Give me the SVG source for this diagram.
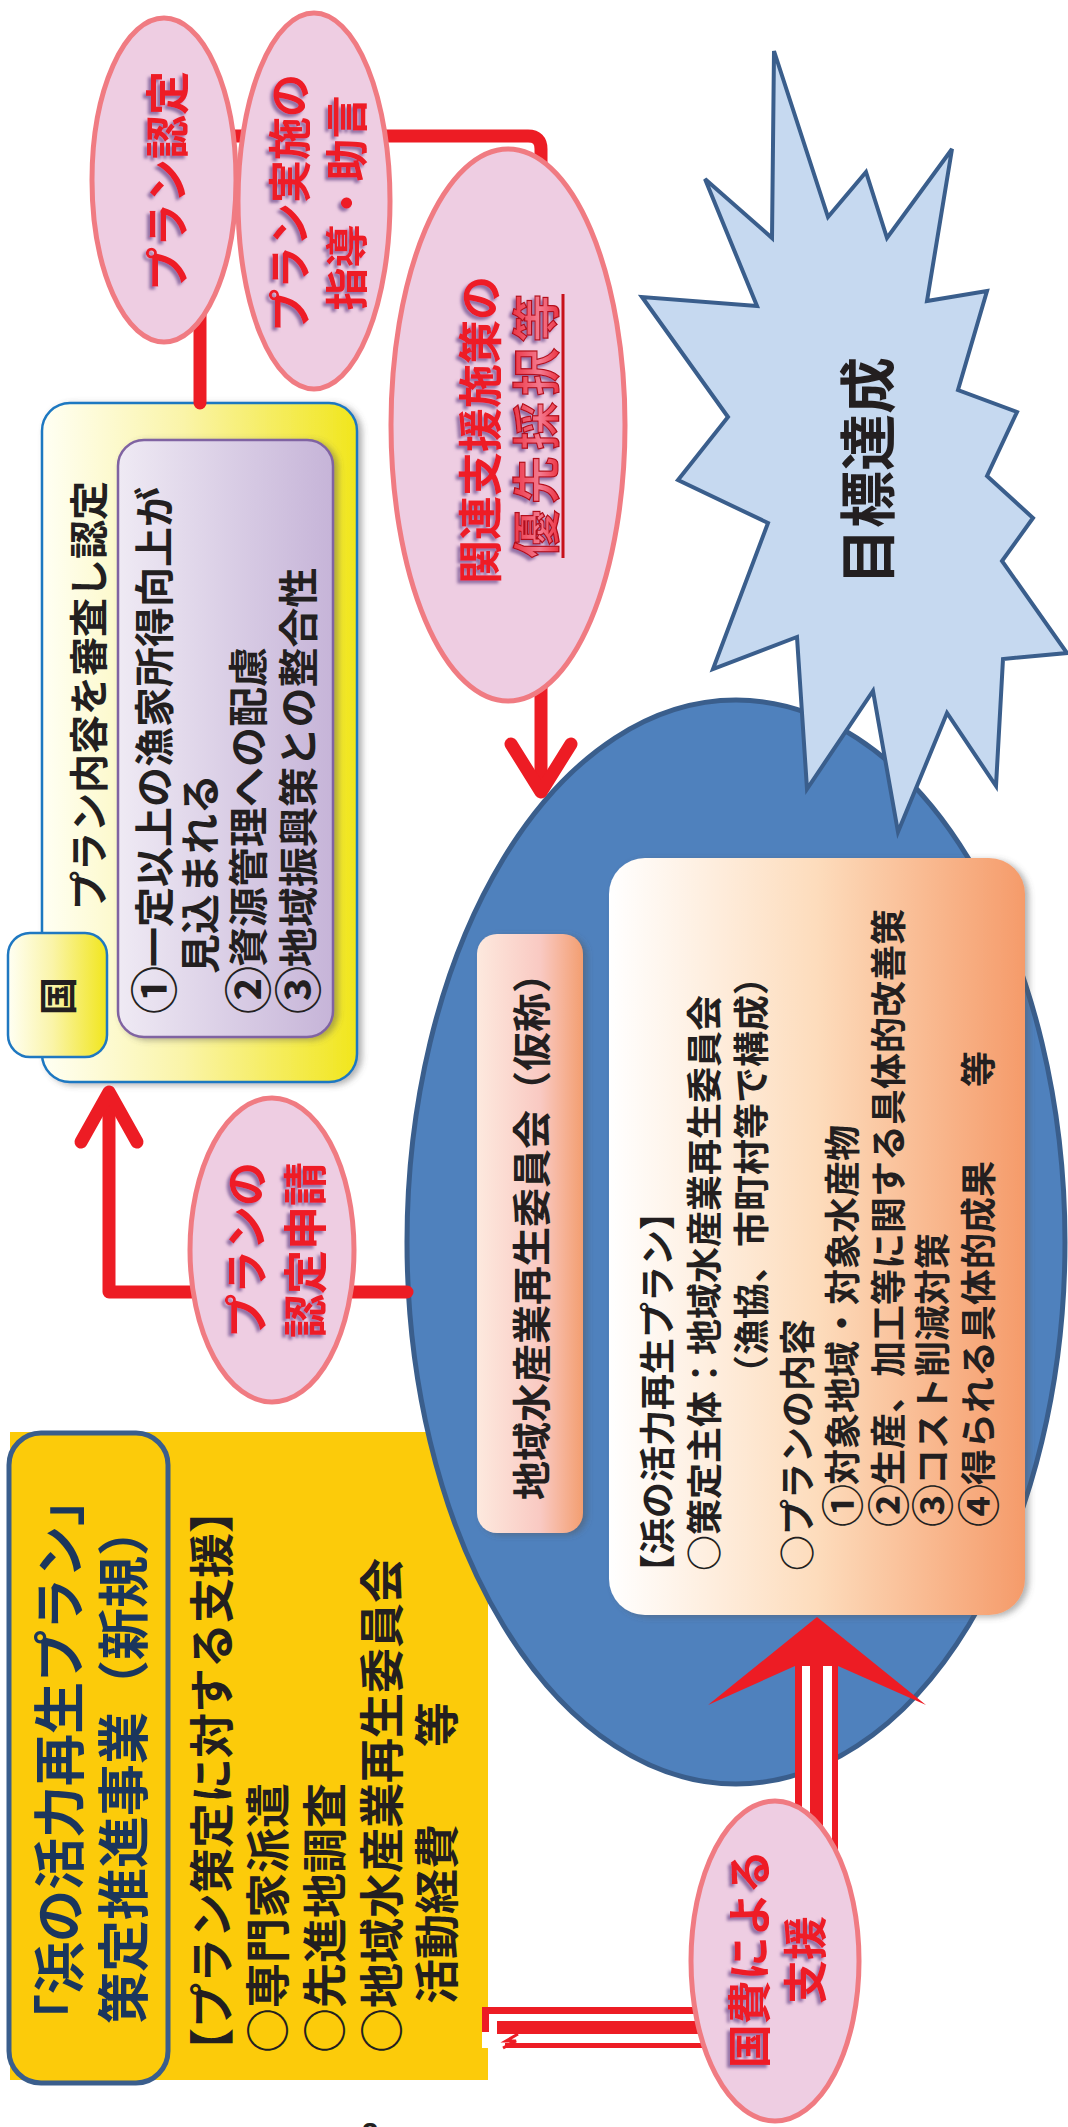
<svg xmlns="http://www.w3.org/2000/svg" width="1068" height="2127" viewBox="0 0 1068 2127">
<defs>
<linearGradient id="gYel" x1="0" y1="0" x2="1" y2="0">
<stop offset="0" stop-color="#fffff4"/><stop offset="0.45" stop-color="#faf4a8"/><stop offset="1" stop-color="#f1e61c"/>
</linearGradient>
<linearGradient id="gPur" x1="0" y1="0" x2="1" y2="0">
<stop offset="0" stop-color="#efeaf4"/><stop offset="1" stop-color="#c6b4d8"/>
</linearGradient>
<linearGradient id="gLab" x1="0" y1="0" x2="1" y2="0">
<stop offset="0" stop-color="#fde9de"/><stop offset="0.6" stop-color="#f9c9c2"/><stop offset="1" stop-color="#f39e70"/>
</linearGradient>
<linearGradient id="gPlan" x1="0" y1="0" x2="1" y2="0">
<stop offset="0" stop-color="#ffffff"/><stop offset="0.5" stop-color="#fddcbc"/><stop offset="1" stop-color="#f59b6a"/>
</linearGradient>
<linearGradient id="gYu" x1="0" y1="0" x2="0" y2="1">
<stop offset="0" stop-color="#e8121e"/><stop offset="0.6" stop-color="#f47a90"/><stop offset="1" stop-color="#e8121e"/>
</linearGradient>
<filter id="sh" x="-10%" y="-10%" width="130%" height="130%">
<feDropShadow dx="4" dy="2" stdDeviation="3" flood-color="#555" flood-opacity="0.45"/>
</filter>
<filter id="ts" x="-10%" y="-20%" width="120%" height="140%">
<feDropShadow dx="-3" dy="-3" stdDeviation="1.5" flood-color="#6a4a8a" flood-opacity="0.7"/>
</filter>
</defs>
<style>
text{font-family:"Noto Sans CJK JP","Noto Sans CJK SC",sans-serif;font-weight:700;}
.blk{fill:#231f20;}
.red{fill:#ee1c25;filter:url(#ts);}
.bub{fill:#eecde2;stroke:#f07b82;stroke-width:5;}
.ln{fill:none;stroke:#ed1c24;stroke-width:13;stroke-linecap:round;stroke-linejoin:round;}
.rf{fill:#ed1c24;}
</style>
<rect width="1068" height="2127" fill="#ffffff"/>

<!-- Yellow support panel -->
<g id="support-panel">
<rect x="10" y="1432" width="478" height="648" fill="#fccb0a"/>
<g transform="matrix(0 -1 1 0 0 2127)" class="blk" font-size="45">
<text x="54" y="229">【プラン策定に対する支援】</text>
<text x="74" y="285">○専門家派遣</text>
<text x="74" y="342">○先進地調査</text>
<text x="74" y="399">○地域水産業再生委員会</text>
<text x="123" y="454">活動経費</text>
<text x="380" y="454">等</text>
</g>
</g>

<!-- Title box -->
<g id="title-box">
<rect x="9" y="1433" width="159" height="650" rx="32" fill="#fccb0a" stroke="#3a5e8c" stroke-width="5"/>
<g transform="matrix(0 -1 1 0 0 2127)" fill="#1b365d" font-size="52">
<text x="81" y="79">「浜の活力再生プラン」</text>
<text x="103" y="143">策定推進事業（新規）</text>
</g>
</g>

<!-- Blue ellipse: regional committee -->
<g id="committee">
<ellipse cx="736" cy="1242" rx="329" ry="542" fill="#4f81bd" stroke="#3a5e8c" stroke-width="5"/>
</g>

<!-- Goal starburst -->
<g id="goal">
<polygon points="774,51 828,217 866,172 887,238 952,149 927,301 987,291 958,390 1017,412 987,476 1033,518 1002,561 1067,653 1003,659 996,786 947,713 898,832 873,691 807,789 797,637 713,669 768,523 678,480 728,417 642,297 757,306 705,179 772,238" fill="#c6d9f0" stroke="#3a5e8c" stroke-width="4" stroke-linejoin="miter"/>
<g transform="matrix(0 -1 1 0 0 2127)">
<text x="1542" y="889" font-size="57" font-weight="900" class="blk">目標達成</text>
</g>
</g>

<!-- Committee label box -->
<g id="committee-label">
<rect x="477" y="934" width="106" height="599" rx="20" fill="url(#gLab)" filter="url(#sh)"/>
<g transform="matrix(0 -1 1 0 0 2127)">
<text x="627" y="546" font-size="39" class="blk">地域水産業再生委員会（仮称）</text>
</g>
</g>

<!-- Plan box -->
<g id="plan-box">
<rect x="609" y="858" width="416" height="757" rx="36" fill="url(#gPlan)" filter="url(#sh)"/>
<g transform="matrix(0 -1 1 0 0 2127)" class="blk" font-size="36">
<text x="537" y="671">【浜の活力再生プラン】</text>
<text x="556" y="718">○策定主体：地域水産業再生委員会</text>
<text x="736" y="765">（漁協、市町村等で構成）</text>
<text x="556" y="811">○プランの内容</text>
<text x="600" y="856"><tspan font-size="43" dy="3">①</tspan><tspan dy="-3" dx="-1">対象地域・対象水産物</tspan></text>
<text x="600" y="902"><tspan font-size="43" dy="3">②</tspan><tspan dy="-3" dx="-1">生産、加工等に関する具体的改善策</tspan></text>
<text x="600" y="946"><tspan font-size="43" dy="3">③</tspan><tspan dy="-3" dx="-1">コスト削減対策</tspan></text>
<text x="600" y="992"><tspan font-size="43" dy="3">④</tspan><tspan dy="-3" dx="-1">得られる具体的成果</tspan></text>
<text x="1040" y="992">等</text>
</g>
</g>

<!-- National government panel -->
<g id="national">
<rect x="42" y="403" width="315" height="679" rx="28" fill="url(#gYel)" stroke="#1f78c1" stroke-width="2.5" filter="url(#sh)"/>
<rect x="118" y="440" width="215" height="597" rx="26" fill="url(#gPur)" stroke="#8064a2" stroke-width="2.5" filter="url(#sh)"/>
<rect x="8" y="933" width="99" height="124" rx="22" fill="url(#gYel)" stroke="#1f78c1" stroke-width="2.5"/>
<g transform="matrix(0 -1 1 0 0 2127)" class="blk">
<text x="1131" y="72" font-size="38" text-anchor="middle">国</text>
<text x="1217" y="103" font-size="39">プラン内容を審査し認定</text>
<text x="1113" y="169" font-size="40"><tspan font-size="48" dy="3">①</tspan><tspan dy="-3" dx="-1">一定以上の漁家所得向上が</tspan></text>
<text x="1153" y="215" font-size="40">見込まれる</text>
<text x="1113" y="263" font-size="40"><tspan font-size="48" dy="3">②</tspan><tspan dy="-3" dx="-1">資源管理への配慮</tspan></text>
<text x="1113" y="313" font-size="40"><tspan font-size="48" dy="3">③</tspan><tspan dy="-3" dx="-1">地域振興策との整合性</tspan></text>
</g>
</g>

<!-- Connectors -->
<g id="connectors">
<path class="ln" d="M200,403 V136 H528 Q541,136 541,149 V788"/>
<path class="ln" d="M511,744 L541,792 L571,744"/>
<path class="ln" d="M407,1292 H109 V1094"/>
<path class="ln" d="M81,1142 L109,1092 L137,1142"/>
<rect x="795" y="1662" width="43" height="190" fill="#ffffff"/>
<rect class="rf" x="795" y="1662" width="7" height="190"/>
<rect class="rf" x="810" y="1660" width="13" height="192"/>
<rect class="rf" x="832" y="1662" width="6" height="190"/>
<polygon class="rf" points="817,1617 926,1705 838,1666 795,1666 708,1705"/>
<rect x="482" y="2007" width="300" height="41" fill="#ffffff"/>
<rect class="rf" x="482" y="2007" width="300" height="7"/>
<rect class="rf" x="482" y="2007" width="7" height="25"/>
<rect class="rf" x="497" y="2021" width="285" height="13"/>
<rect class="rf" x="505" y="2043" width="277" height="5"/>
<path d="M518,2034 L506,2041 L516,2041 L503,2048" fill="none" stroke="#ed1c24" stroke-width="3"/>
</g>

<!-- Bubble labels -->
<g id="bubble-approval">
<ellipse class="bub" cx="164" cy="180" rx="72" ry="162"/>
<g transform="matrix(0 -1 1 0 0 2127)">
<text class="red" x="1946" y="184" font-size="44" text-anchor="middle">プラン認定</text>
</g>
</g>
<g id="bubble-guidance">
<ellipse class="bub" cx="314" cy="201" rx="76" ry="188"/>
<g transform="matrix(0 -1 1 0 0 2127)">
<text class="red" x="1924" y="306" font-size="43" text-anchor="middle">プラン実施の</text>
<text class="red" x="1924" y="363" font-size="43" text-anchor="middle">指導・助言</text>
</g>
</g>
<g id="bubble-priority">
<ellipse class="bub" cx="508" cy="425" rx="117" ry="276"/>
<g transform="matrix(0 -1 1 0 0 2127)">
<text class="red" x="1697" y="497" font-size="44" text-anchor="middle">関連支援施策の</text>
<text x="1704" y="554" font-size="48" letter-spacing="6" text-anchor="middle" fill="url(#gYu)" stroke="#b3101a" stroke-width="1.2" filter="url(#ts)">優先採択等</text>
<line x1="1569" y1="563" x2="1833" y2="563" stroke="#c8101a" stroke-width="3"/>
</g>
</g>
<g id="bubble-application">
<ellipse class="bub" cx="272" cy="1250" rx="82" ry="152"/>
<g transform="matrix(0 -1 1 0 0 2127)">
<text class="red" x="877" y="263" font-size="44" text-anchor="middle">プランの</text>
<text class="red" x="877" y="322" font-size="44" text-anchor="middle">認定申請</text>
</g>
</g>
<g id="bubble-funding">
<ellipse class="bub" cx="775" cy="1961" rx="84" ry="160"/>
<g transform="matrix(0 -1 1 0 0 2127)">
<text class="red" x="168" y="766" font-size="44" text-anchor="middle">国費による</text>
<text class="red" x="167" y="822" font-size="44" text-anchor="middle">支援</text>
</g>
</g>

<text x="370" y="2143" font-size="30" text-anchor="middle" style="font-family:'Liberation Sans',sans-serif" class="blk">2</text>
</svg>
